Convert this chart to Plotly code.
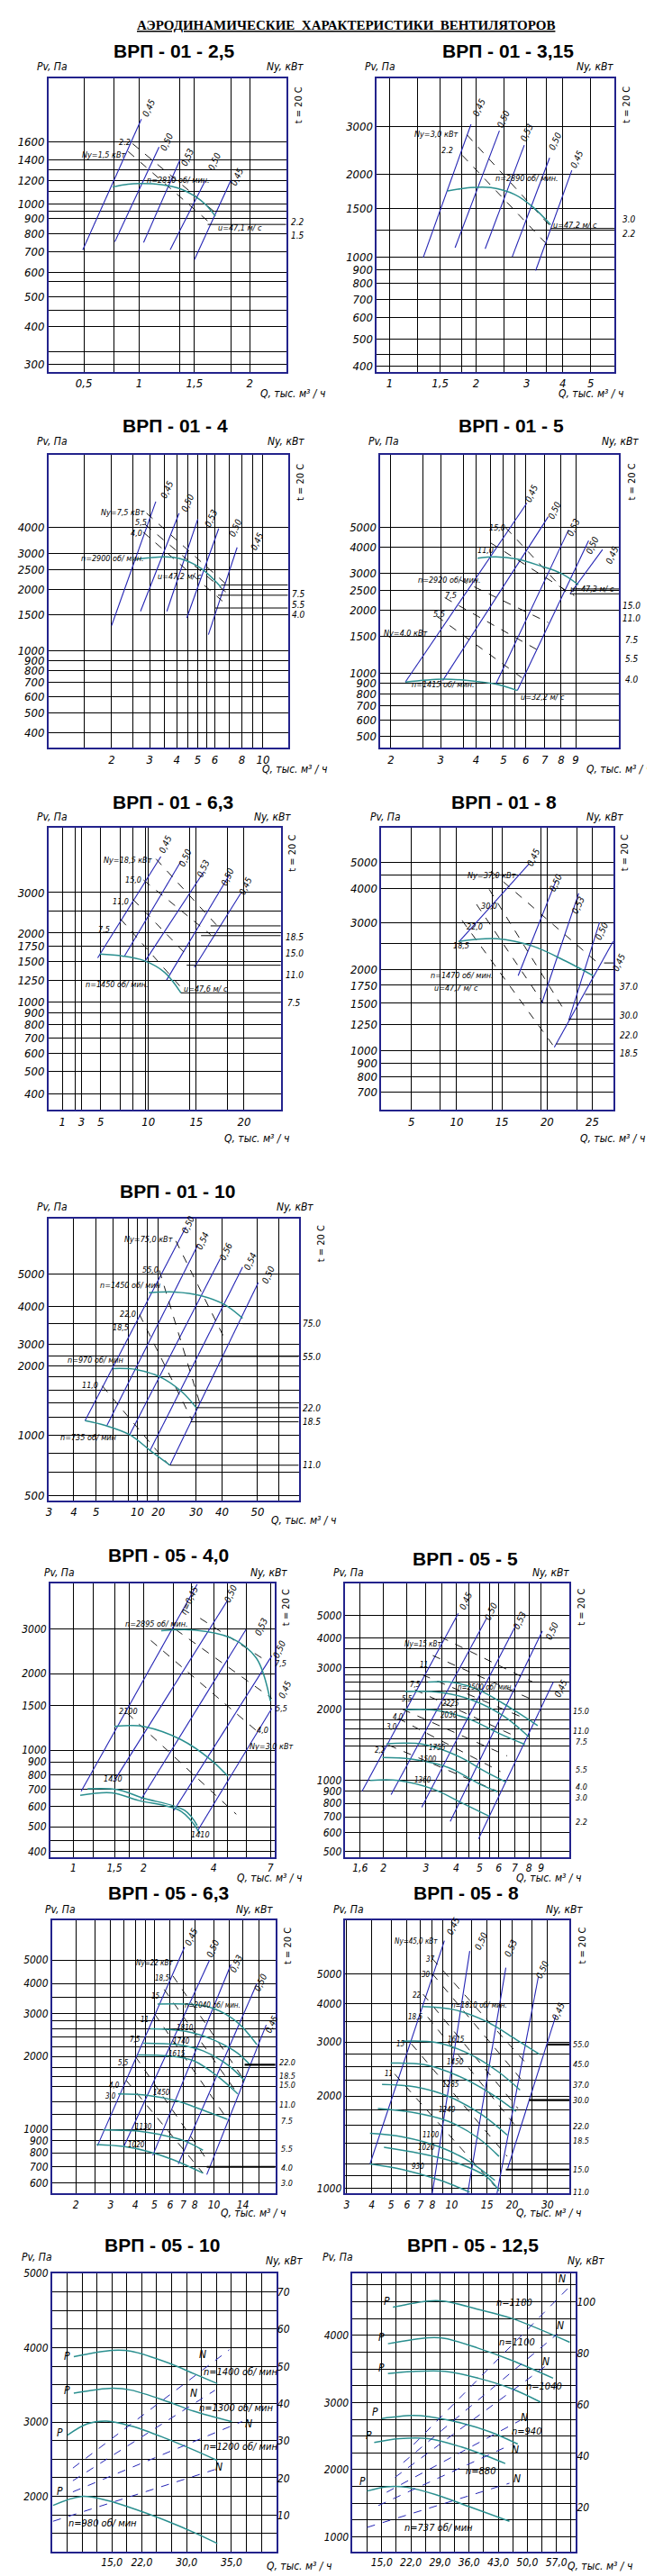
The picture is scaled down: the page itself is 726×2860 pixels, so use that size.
import numpy as np
import plotly.graph_objects as go

W, H = 726, 2860
FONT = "Liberation Sans Narrow, DejaVu Sans Condensed, Liberation Sans, Arial"
NAVY = "#23238c"
BLUE = "#2424b4"
TEAL = "#2a8f8f"

# ---------------- ВРП-01-2,5 ----------------
k25_xt = [0.5, 1, 1.5, 2]
k25_xl = ["0,5", "1", "1,5", "2"]
k25_xg = [0.77, 1.37, 1.83]
k25_yt = [300, 400, 500, 600, 700, 800, 900, 1000, 1200, 1400, 1600]
k25_yg = [330, 450, 560, 950, 1100, 1300]
k25_q = [[0.76, 0.9, 1.02, 1.2, 1.37, 1.5, 1.6, 1.69]]
k25_p = [[1140, 1165, 1170, 1160, 1125, 1065, 1000, 915]]
k25_eff_q = [[0.49, 1.02], [0.78, 1.18], [1.04, 1.37], [1.28, 1.6], [1.5, 1.83]]
k25_eff_p = [[710, 1900], [755, 1540], [750, 1400], [710, 1200], [660, 1200]]
k25_dash_q = [[0.94, 1.69], [0.9, 1.64]]
k25_dash_p = [[1580, 940], [1490, 870]]
k25_n = ["2.2", "1.5"]
k25_stub_q = [1.69, 1.62]
k25_stub_p = [950, 860]

# ---------------- ВРП-01-3,15 ----------------
k315_xt = [1, 1.5, 2, 3, 4, 5]
k315_xg = [1.25, 1.78, 2.5, 3.5]
k315_yt = [400, 500, 600, 700, 800, 900, 1000, 1500, 2000, 3000]
k315_yg = [440, 1250]
k315_q = [[1.59, 1.91, 2.25, 2.72, 3.15, 3.63]]
k315_p = [[1740, 1790, 1790, 1690, 1520, 1310]]
k315_eff_q = [[1.31, 1.92], [1.69, 2.41], [2.15, 2.94], [2.67, 3.6], [3.22, 4.3]]
k315_eff_p = [[995, 3050], [1080, 2890], [1070, 2560], [1000, 2300], [890, 2070]]
k315_dash_q = [[1.86, 3.63], [1.79, 3.47]]
k315_dash_p = [[2790, 1290], [2350, 1130]]
k315_n = ["3.0", "2.2"]
k315_stub_q = [3.63, 3.47]
k315_stub_p = [1270, 1110]

# ---------------- ВРП-01-4 ----------------
k4_xt = [2, 3, 4, 5, 6, 8, 10]
k4_xg = [1.5, 2.5, 3.5, 4.5, 5.5, 7, 9]
k4_yt = [400, 500, 600, 700, 800, 900, 1000, 1500, 2000, 2500, 3000, 4000]
k4_yg = []
k4_q = [[2.58, 3.5, 4.15, 5.2, 6.4]]
k4_p = [[2800, 2880, 2820, 2520, 2050]]
k4_eff_q = [[2.0, 3.2], [2.72, 4.1], [3.6, 5.0], [4.45, 6.25], [5.6, 7.6]]
k4_eff_p = [[1330, 5360], [1560, 4700], [1560, 4400], [1450, 3960], [1200, 3200]]
k4_dash_q = [[2.9, 7.0], [2.85, 6.9], [2.8, 6.5]]
k4_dash_p = [[4700, 2050], [4150, 1900], [3800, 1750]]
k4_n = ["7.5", "5.5", "4.0"]
k4_stub_q = [6.4, 6.2, 6.0]
k4_stub_p = [2100, 1870, 1620]

# ---------------- ВРП-01-5 ----------------
k5_xt = [2, 3, 4, 5, 6, 7, 8, 9]
k5_xg = [2.6, 3.6, 4.5, 5.5]
k5_yt = [500, 600, 700, 800, 900, 1000, 1500, 2000, 2500, 3000, 4000, 5000]
k5_yg = []
k5_q = [[4.05, 4.7, 5.55, 6.8, 8.0, 9.2], [2.25, 3.05, 3.8, 4.7, 5.6]]
k5_p = [[3550, 3600, 3520, 3250, 3000, 2650], [910, 940, 925, 890, 830]]
k5_eff_q = [[2.25, 6.05], [3.05, 7.2], [4.7, 8.5], [5.6, 10.0], [8.6, 11.2]]
k5_eff_p = [[910, 6500], [925, 5600], [890, 4850], [830, 4300], [2400, 3900]]
k5_dash_q = [[5.1, 8.3], [4.5, 8.9], [3.5, 7.2], [3.1, 6.7], [2.9, 6.1]]
k5_dash_p = [[4950, 2450], [4200, 2350], [2800, 1750], [2300, 1280], [1880, 910]]
k5_n = ["15.0", "11.0", "7.5", "5.5", "4.0"]
k5_stub_q = [8.7, 8.6]
k5_stub_p = [2530, 2400]

# ---------------- ВРП-01-6,3 ----------------
k63_xt = [1, 3, 5, 10, 15, 20]
k63_xg = [2.4, 7.1, 8.4, 9.7, 14.3, 18.3]
k63_yt = [400, 500, 600, 700, 800, 900, 1000, 1250, 1500, 1750, 2000, 3000]
k63_yg = [2500]
k63_q = [[4.9, 7.3, 9.5, 11.7, 13.4]]
k63_p = [[1620, 1590, 1520, 1350, 1100]]
k63_eff_q = [[4.7, 11.3], [7.5, 13.4], [9.7, 15.8], [11.9, 18.5], [14.8, 19.7]]
k63_eff_p = [[1560, 4300], [1590, 4100], [1520, 3700], [1250, 3600], [1420, 3000]]
k63_dash_q = [[10.8, 17.2], [9.5, 16.5], [8.4, 14.3], [7.1, 13.5]]
k63_dash_p = [[4200, 2150], [3400, 1970], [2800, 1560], [2300, 1150]]
k63_n = ["18.5", "15.0", "11.0", "7.5"]
k63_stub_q = [16.5, 15.5, 14.0, 13.4]
k63_stub_p = [2150, 1950, 1450, 1100]

# ---------------- ВРП-01-8 ----------------
k8_xt = [5, 10, 15, 20, 25]
k8_xg = [8.2, 13.9, 19.3, 23.3]
k8_yt = [700, 800, 900, 1000, 1250, 1500, 1750, 2000, 3000, 4000, 5000]
k8_yg = [2500, 4500]
k8_q = [[10.2, 14.5, 18.4, 22.1, 25.1]]
k8_p = [[2550, 2610, 2450, 2150, 1900]]
k8_eff_q = [[10.3, 18.0], [16.8, 21.0], [19.4, 23.5], [22.4, 25.8], [20.8, 27.3]]
k8_eff_p = [[2550, 4950], [1900, 4300], [1500, 3850], [1300, 3000], [1030, 2550]]
k8_dash_q = [[13.8, 25.4], [13.6, 22.1], [12.2, 19.6], [10.6, 21.0]]
k8_dash_p = [[4650, 2150], [3980, 1380], [3500, 1500], [3050, 1010]]
k8_n = ["37.0", "30.0", "22.0", "18.5"]
k8_stub_q = [26.3, 24.2, 22.4, 21.0]
k8_stub_p = [2120, 1620, 1310, 1060]

# ---------------- ВРП-01-10 ----------------
k10_xt = [3, 4.2, 5.7, 10, 13.3, 22.3, 31.7, 51.5]
k10_xl = ["3", "4", "5", "10", "20", "30", "40", "50"]
k10_xg = [7.2, 8.8, 11.5, 68.7]
k10_yt = [525, 1000, 2110, 2650, 4000, 5650]
k10_yl = ["500", "1000", "2000", "3000", "4000", "5000"]
k10_yg = [670, 825, 1210, 1420, 1630, 1875, 2350, 3320]
k10_q = [[11.7, 16.6, 24.0, 33.0, 42.0], [7.2, 9.8, 13.5, 18.3, 22.4], [4.9, 6.5, 9.0, 11.9, 15.6]]
k10_p = [[4630, 4670, 4480, 4070, 3520], [2050, 2030, 1880, 1600, 1340], [1170, 1110, 1006, 850, 725]]
k10_eff_q = [[4.9, 19.4], [6.6, 22.8], [9.0, 31], [11.9, 42], [15.6, 52]]
k10_eff_p = [[1170, 9400], [1110, 7740], [1006, 6700], [850, 6100], [725, 5170]]
k10_dash_q = [[16.9, 33], [13.5, 23.9], [10.3, 21.1], [6.2, 15.4]]
k10_dash_p = [[8080, 2810], [5890, 1340], [3660, 1175], [1700, 725]]
k10_n = ["75.0", "55.0", "22.0", "18.5", "11.0"]
k10_stub_q = [42, 31.7, 22.3, 20.7, 15.6]
k10_stub_p = [3320, 2335, 1346, 1156, 725]

# ---------------- ВРП-05-4,0 ----------------
m40_xt = [1, 1.5, 2, 4, 7]
m40_xg = [1.22, 1.74, 2.68, 3.2, 4.6, 5.5]
m40_yt = [400, 500, 600, 700, 800, 900, 1000, 1500, 2000, 3000]
m40_yg = [440]
m40_q = [[2.38, 3.3, 4.8, 6.1, 7.0], [1.5, 1.75, 2.0, 2.9, 3.9, 4.6],
         [1.15, 1.55, 1.97, 3.0, 3.4], [1.07, 1.46, 1.9, 2.9, 3.5]]
m40_p = [[2950, 2970, 2750, 2300, 1560], [1240, 1250, 1240, 1100, 915, 790],
         [705, 700, 650, 580, 505], [665, 680, 635, 575, 470]]
m40_eff_q = [[1.08, 3.4], [1.5, 4.6], [1.95, 5.5], [2.7, 7.1], [3.4, 7.1]]
m40_eff_p = [[690, 4500], [760, 3900], [640, 2980], [580, 2350], [480, 1460]]
m40_dash_q = [[2.15, 6.4], [2.75, 7.1], [3.5, 6.7], [1.7, 5.0]]
m40_dash_p = [[2700, 1150], [2980, 1600], [3300, 2250], [1400, 560]]

# ---------------- ВРП-05-5 ----------------
m5_xt = [1.6, 2, 3, 4, 5, 6, 7, 8, 9]
m5_xg = [2.5, 3.5, 4.5, 5.5]
m5_yt = [500, 600, 700, 800, 900, 1000, 2000, 3000, 4000, 5000]
m5_yg = [3600, 2800, 2600, 2400, 2200, 1800, 1650, 1500, 1400, 1200]
m5_q = [[3.06, 3.89, 4.95, 6.8, 8.7], [2.46, 3.45, 4.76, 6.3, 7.99], [2.46, 3.32, 4.57, 6.03, 7.7],
        [2.06, 2.94, 4.05, 5.36, 6.42], [1.98, 2.61, 3.74, 4.95, 5.92], [1.76, 2.3, 3.2, 4.2, 5.47]]
m5_p = [[2610, 2600, 2420, 2010, 1705], [2380, 2360, 2170, 1870, 1530], [1990, 1980, 1810, 1580, 1420],
        [1430, 1420, 1270, 1080, 985], [1250, 1230, 1130, 970, 895], [1000, 1000, 920, 805, 705]]
m5_eff_q = [[1.63, 4.08], [2.15, 5.35], [2.88, 7.1], [3.78, 9.1], [4.95, 10.1]]
m5_eff_p = [[900, 5100], [870, 4870], [770, 4580], [670, 4300], [565, 2610]]
m5_dash_q = [[3.45, 8.3], [3.2, 8.0], [2.9, 7.7], [2.7, 7.1], [2.4, 6.5], [2.3, 6.1], [2.1, 6.0]]
m5_dash_p = [[4050, 2610], [3380, 2230], [2800, 1830], [2420, 1530], [2000, 1270], [1830, 1090], [1410, 895]]
m5_n = ["15.0", "11.0", "7.5", "5.5", "4.0", "3.0", "2.2"]

# ---------------- ВРП-05-6,3 ----------------
m63_xt = [1.5, 2, 3, 4, 5, 6, 7, 8, 10, 14]
m63_xl = ["1,5", "2", "3", "4", "5", "6", "7", "8", "10", "14"]
m63_xg = [2.5, 3.5, 4.5, 12, 17]
m63_yt = [600, 700, 800, 900, 1000, 2000, 3000, 4000, 5000]
m63_yg = [3500, 2800, 2600, 2400, 2200, 1800, 1650, 1500, 1300, 1150]
m63_q = [[5.18, 9.2, 12.9, 16.5], [4.76, 7.2, 10.1, 13.2, 15.4], [4.39, 6.5, 8.8, 11.7, 14.3],
         [4.12, 5.9, 7.9, 10.6, 13.2], [3.27, 4.65, 6.5, 8.8, 11.7], [2.75, 4.02, 5.4, 7.0, 8.8],
         [2.54, 3.47, 4.65, 6.2, 8.8]]
m63_p = [[3290, 3220, 2800, 2240], [2600, 2540, 2330, 2060, 1830], [2270, 2240, 2110, 1850, 1590],
         [2030, 2010, 1920, 1640, 1400], [1400, 1380, 1310, 1200, 1100], [995, 985, 950, 900, 820],
         [865, 850, 810, 750, 660]]
m63_eff_q = [[2.57, 7.1], [3.5, 9.5], [4.9, 12.2], [6.6, 16.5], [9.2, 18.4]]
m63_eff_p = [[855, 5660], [850, 5000], [780, 4800], [720, 4000], [650, 2700]]
m63_dash_q = [[6.2, 14.3], [5.6, 13.2], [5.0, 11.7], [4.0, 9.2], [3.6, 8.8]]
m63_dash_p = [[4300, 1590], [3780, 1400], [3000, 1100], [2000, 750], [1590, 660]]
m63_n = ["22.0", "18.5", "15.0", "11.0", "7.5", "5.5", "4.0", "3.0"]
m63_stub_q = [14.3, 9.2]
m63_stub_p = [1850, 700]

# ---------------- ВРП-05-8 ----------------
m8_xt = [3, 4, 5, 6, 7, 8, 10, 15, 20, 30]
m8_xg = [9, 12.5, 17.5, 25]
m8_yt = [1000, 2000, 3000, 4000, 5000]
m8_yg = [3500, 2750, 2500, 2250, 1800, 1600, 1400, 1200, 1100]
m8_q = [[7.1, 10.2, 14.9, 20.9, 27.3], [5.7, 8.4, 12.3, 17.2, 21.9], [4.97, 7.3, 10.7, 15.6, 20.9],
        [4.5, 6.6, 9.7, 14.1, 18.9], [4.29, 6.3, 9.7, 13.5, 17.2], [3.92, 5.7, 8.8, 12.3, 16.4],
        [4.6, 6.9, 10.2, 14.9, 17.2], [3.92, 5.7, 8.8, 12.3]]
m8_p = [[3920, 3830, 3500, 3060, 2740], [3020, 2990, 2740, 2390, 2090], [2560, 2530, 2330, 2040, 1780],
        [2180, 2140, 1990, 1740, 1490], [1820, 1770, 1650, 1460, 1270], [1510, 1470, 1360, 1220, 1060],
        [1360, 1300, 1220, 1090, 980], [1200, 1150, 1060, 970]]
m8_eff_q = [[3.92, 9.2], [8.0, 12.3], [12.0, 18.6], [16.8, 27], [19, 33]]
m8_eff_p = [[1200, 6430], [960, 5950], [960, 5250], [960, 4900], [1160, 3660]]
m8_dash_q = [[8.0, 24.2], [8.0, 23.3], [7.2, 21.4], [7.6, 20.9], [6.3, 18.9], [5.2, 16.4]]
m8_dash_p = [[5620, 2500], [5020, 2180], [4300, 1820], [3620, 1590], [2960, 1270], [2360, 1015]]
m8_n = ["55.0", "45.0", "37.0", "30.0", "22.0", "18.5", "15.0", "11.0"]
m8_stub_q = [30, 24.3, 18.6]
m8_stub_p = [2945, 1938, 1150]

# ---------------- ВРП-05-10 ----------------
m10_xl = ["15,0", "22,0", "30,0", "35,0"]
m10_yt = [2000, 3000, 4000, 5000]
m10_nt = [10, 20, 30, 40, 50, 60, 70]
m10_q = [[8.75, 15.2, 18.3, 24.6, 28.7, 32.6], [8.75, 15.2, 18.3, 24.6, 28.7, 35.0],
         [7.7, 11.0, 14.2, 18.3, 23.9, 28.7, 32.6], [5.3, 10.0, 14.2, 19.0, 24.6, 28.7, 32.6]]
m10_p = [[3880, 3965, 3953, 3792, 3651, 3518], [3389, 3457, 3430, 3268, 3147, 3006],
         [2825, 2978, 3014, 2946, 2785, 2624, 2483], [1879, 2000, 1947, 1826, 1657, 1516, 1367]]
m10_nq = [[8.6, 34.6], [8.6, 32.2], [8.6, 36.7], [5.3, 32.2]]
m10_nv = [[22.7, 54.5], [19.3, 43.6], [16.3, 35.2], [8.4, 22.3]]

# ---------------- ВРП-05-12,5 ----------------
m125_xl = ["15,0", "22,0", "29,0", "36,0", "43,0", "50,0", "57,0"]
m125_yt = [1000, 2000, 3000, 4000]
m125_nt = [20, 40, 60, 80, 100]
m125_q = [[17.7, 26.2, 30.2, 38.2, 46.2, 60.2], [16.5, 26.2, 30.2, 38.2, 46.2, 56.2],
          [16.5, 22.2, 30.2, 38.2, 46.2, 53.2], [15, 22.2, 26.2, 34.2, 41.2, 47.7],
          [13.2, 19.2, 26.2, 34.2, 40.2, 44.7], [11.5, 16.2, 21.2, 28.2, 36.2, 45.7]]
m125_p = [[4420, 4513, 4509, 4388, 4255, 3898], [3876, 3965, 3956, 3809, 3630, 3363],
          [3430, 3461, 3465, 3363, 3207, 3006], [2761, 2806, 2792, 2694, 2560, 2382],
          [2404, 2462, 2462, 2337, 2204, 2092], [1682, 1745, 1736, 1624, 1446, 1232]]
m125_nq = [[22.7, 60.7], [20.2, 57.2], [18.2, 54.2], [16.2, 48.2], [14.2, 46.2], [11.5, 45.7]]
m125_nv = [[44.4, 106.7], [37.4, 87.4], [31.6, 74.7], [25.8, 53.7], [20.6, 44.4], [12.1, 29.3]]

eff_std = ["0,45", "0,50", "0,53", "0,50", "0,45"]

fig = go.Figure()
ann = []


def fx(x):
    return x / W


def fy(y):
    return 1 - y / H


def text(s, x, y, size=9, angle=0, xa="center", ya="middle", style="italic", weight="normal", family=FONT, under=False):
    f = dict(family=family, size=size, color="black", style=style, weight=weight)
    if under:
        f["lineposition"] = "under"
    ann.append(dict(text=s, x=fx(x), y=fy(y), xref="paper", yref="paper", showarrow=False,
                    textangle=angle, xanchor=xa, yanchor=ya, font=f))


def axname(kind, n):
    return kind + ("axis" if n == 1 else "axis%d" % n)


def ref(kind, n):
    return kind if n == 1 else "%s%d" % (kind, n)


def panel(n, frame, xtype, xr, xt, xl, xg, ytype, yr, yt, yl, yg, fs=13):
    l, t, r, b = frame
    tf = dict(family=FONT, size=fs, style="italic", color="black")
    common = dict(showgrid=True, gridcolor="black", gridwidth=1, showline=True, mirror=True,
                  linecolor=NAVY, linewidth=1.6, zeroline=False, ticks="", tickmode="array", tickfont=tf)
    fig.layout[axname("x", n)] = dict(domain=[fx(l), fx(r)], anchor=ref("y", n), type=xtype, range=xr,
                                      tickvals=list(xt), ticktext=list(xl),
                                      minor=dict(tickmode="array", tickvals=list(xg), showgrid=True,
                                                 gridcolor="black", gridwidth=1, ticks=""), **common)
    fig.layout[axname("y", n)] = dict(domain=[fy(b), fy(t)], anchor=ref("x", n), type=ytype, range=yr,
                                      tickvals=list(yt), ticktext=list(yl),
                                      minor=dict(tickmode="array", tickvals=list(yg), showgrid=True,
                                                 gridcolor="black", gridwidth=1, ticks=""), **common)


def lines(n, qs, ps, color, width=1.0, dash="solid", shape="linear", yn=None):
    for q, p in zip(qs, ps):
        fig.add_trace(go.Scatter(x=q, y=p, mode="lines", xaxis=ref("x", n), yaxis=ref("y", yn or n),
                                 line=dict(color=color, width=width, dash=dash, shape=shape),
                                 showlegend=False, hoverinfo="skip"))


def stubs(n, qs, ps, qmax, width=1.0):
    lines(n, [[q, qmax] for q in qs], [[p, p] for p in ps], "black", width)


def labels(vals):
    return [("%g" % v).replace(".", ",") for v in vals]


def heads(title, tx, ty, pv, ny, q, t20=None, fs_t=21):
    text(title, tx, ty, size=fs_t, style="normal", weight="bold", family="Liberation Sans, Arial")
    text("Pv, Па", pv[0], pv[1], size=12)
    text("Ny, кВт", ny[0], ny[1], size=12)
    text("Q, тыс. м³ / ч", q[0], q[1], size=12)
    if t20:
        text("t = 20 С", t20[0], t20[1], size=11, angle=-90, style="normal")


def put(items, size=9, angle=0, xa="center"):
    for s, x, y in items:
        text(s, x, y, size=size, angle=angle, xa=xa)


def chart(n, frame, xtype, xr, ytype, yr, xt, xl, xg, yt, yl, yg, q, p, eq, ep, dq, dp, fs=13):
    panel(n, frame, xtype, xr, xt, xl, xg, ytype, yr, yt, yl, yg, fs)
    lines(n, eq, ep, BLUE, 1.1)
    lines(n, dq, dp, "black", 0.9, "dash")
    lines(n, q, p, TEAL, 1.5, shape="spline")


# page title
text("АЭРОДИНАМИЧЕСКИЕ  ХАРАКТЕРИСТИКИ  ВЕНТИЛЯТОРОВ", 375, 13, size=15, style="normal",
     weight="bold", family="Liberation Serif, Times New Roman", under=True)

# ВРП-01-2,5
f = (43, 72, 308, 399)
chart(1, f, "linear", [0.18, 2.33], "log", [2.4526, 3.4129], k25_xt, k25_xl, k25_xg,
      k25_yt, labels(k25_yt), k25_yg, k25_q, k25_p, k25_eff_q, k25_eff_p, k25_dash_q, k25_dash_p)
stubs(1, k25_stub_q, k25_stub_p, 2.33)
heads("ВРП - 01 - 2,5", 183, 42, (47, 59), (307, 59), (315, 423), (322, 102))
put([("Ny=1,5 кВт", 105, 157), ("2.2", 128, 143), ("n=2810 об/ мин.", 188, 186), ("u=47,1 м/ с", 257, 239)])
put(zip(eff_std, [155, 175, 198, 228, 253], [105, 143, 160, 165, 182]), size=10, angle=-65)
put(zip(k25_n, [321, 321], [232, 247]), size=10)

# ВРП-01-3,15
f = (409, 72, 674, 399)
chart(2, f, "log", [-0.044, 0.782], "log", [2.580, 3.653], k315_xt, labels(k315_xt), k315_xg,
      k315_yt, labels(k315_yt), k315_yg, k315_q, k315_p, k315_eff_q, k315_eff_p, k315_dash_q, k315_dash_p)
stubs(2, k315_stub_q, k315_stub_p, 6.05)
heads("ВРП - 01 - 3,15", 555, 42, (413, 59), (652, 59), (648, 423), (688, 102))
put([("Ny=3,0 кВт", 475, 134), ("2.2", 488, 152), ("n=2890 об/ мин.", 576, 184), ("u=47,2 м/ с", 630, 236)])
put(zip(eff_std, [523, 550, 576, 608, 632], [105, 118, 133, 142, 162]), size=10, angle=-65)
put(zip(k315_n, [690, 690], [229, 245]), size=10)

# ВРП-01-4
f = (43, 492, 310, 818)
chart(3, f, "log", [0.0095, 1.1158], "log", [2.5263, 3.955], k4_xt, labels(k4_xt), k4_xg,
      k4_yt, labels(k4_yt), k4_yg, k4_q, k4_p, k4_eff_q, k4_eff_p, k4_dash_q, k4_dash_p)
stubs(3, k4_stub_q, k4_stub_p, 13.05)
heads("ВРП - 01 - 4", 184, 459, (47, 477), (308, 477), (317, 842), (324, 522))
put([("Ny=7,5 кВт", 126, 556), ("5,5", 146, 567), ("4,0", 141, 579), ("n=2900 об/ мин.", 114, 607),
     ("u=47,2 м/ с", 189, 627)])
put(zip(eff_std, [175, 198, 224, 251, 275], [530, 545, 562, 573, 588]), size=10, angle=-65)
put(zip(k4_n, [322] * 3, [647, 659, 670]), size=10)

# ВРП-01-5
f = (413, 492, 679, 818)
chart(4, f, "log", [0.2641, 1.1075], "log", [2.6449, 4.0409], k5_xt, labels(k5_xt), k5_xg,
      k5_yt, labels(k5_yt), k5_yg, k5_q, k5_p, k5_eff_q, k5_eff_p, k5_dash_q, k5_dash_p)
stubs(4, k5_stub_q, k5_stub_p, 12.8)
heads("ВРП - 01 - 5", 559, 459, (417, 477), (680, 477), (679, 842), (693, 522))
put([("15,0", 543, 573), ("11,0", 530, 598), ("n=2920 об/ мин.", 490, 631), ("7,5", 492, 648),
     ("5,5", 478, 669), ("Ny=4,0 кВт", 441, 690), ("u=47,3 м/ с", 649, 641),
     ("n=1415 об/ мин.", 483, 747), ("u=32,2 м/ с", 594, 761)])
put(zip(eff_std, [581, 607, 628, 649, 671], [535, 553, 572, 592, 603]), size=10, angle=-65)
put(zip(k5_n, [693] * 5, [660, 674, 698, 719, 742]), size=10)

# ВРП-01-6,3
f = (43, 907, 302, 1221)
chart(5, f, "linear", [-0.44, 23.84], "log", [2.5331, 3.7583], k63_xt, labels(k63_xt), k63_xg,
      k63_yt, labels(k63_yt), k63_yg, k63_q, k63_p, k63_eff_q, k63_eff_p, k63_dash_q, k63_dash_p)
stubs(5, k63_stub_q, k63_stub_p, 23.84)
heads("ВРП - 01 - 6,3", 182, 878, (47, 895), (293, 895), (275, 1253), (314, 935))
put([("Ny=18,5 кВт", 132, 943), ("15,0", 138, 965), ("11,0", 124, 989), ("7,5", 105, 1020),
     ("n=1450 об/ мин.", 119, 1081), ("u=47,6 м/ с", 218, 1086)])
put(zip(eff_std, [173, 195, 215, 243, 263], [925, 940, 952, 962, 972]), size=10, angle=-65)
put(zip(k63_n, [317] * 4, [1029, 1047, 1071, 1102]), size=10)

# ВРП-01-8
f = (414, 907, 673, 1221)
chart(6, f, "linear", [1.67, 27.36], "log", [2.7805, 3.8284], k8_xt, labels(k8_xt), k8_xg,
      k8_yt, labels(k8_yt), k8_yg, k8_q, k8_p, k8_eff_q, k8_eff_p, k8_dash_q, k8_dash_p)
stubs(6, k8_stub_q, k8_stub_p, 27.36)
heads("ВРП - 01 - 8", 551, 878, (419, 895), (663, 895), (672, 1253), (685, 935))
put([("Ny=37,0 кВт", 537, 960), ("30,0", 534, 994), ("22,0", 518, 1017), ("18,5", 503, 1038),
     ("n=1470 об/ мин.", 504, 1071), ("u=47,7 м/ с", 498, 1085)])
put(zip(eff_std, [583, 609, 634, 660, 679], [940, 968, 993, 1022, 1057]), size=10, angle=-65)
put(zip(k8_n, [690] * 4, [1084, 1116, 1138, 1158]), size=10)

# ВРП-01-10
f = (43, 1342, 322, 1656)
chart(7, f, "log", [0.4736, 1.9559], "log", [2.6961, 4.0126], k10_xt, k10_xl, k10_xg,
      k10_yt, k10_yl, k10_yg, k10_q, k10_p, k10_eff_q, k10_eff_p, k10_dash_q, k10_dash_p)
stubs(7, k10_stub_q, k10_stub_p, 90.3)
heads("ВРП - 01 - 10", 187, 1312, (47, 1329), (318, 1329), (327, 1678), (347, 1370))
put([("Ny=75,0 кВт", 155, 1365), ("55,0", 157, 1399), ("n=1450 об/ мин", 134, 1416), ("22,0", 132, 1449),
     ("18,5", 124, 1464), ("n=970 об/ мин", 95, 1500), ("11,0", 89, 1528), ("n=735 об/ мин", 87, 1586)])
put(zip(["0,50", "0,54", "0,56", "0,54", "0,50"], [199, 215, 241, 268, 288], [1349, 1367, 1379, 1390, 1405]),
    size=10, angle=-65)
put(zip(k10_n, [336] * 5, [1459, 1496, 1553, 1568, 1617]), size=10)

# ВРП-05-4,0
f = (45, 1749, 295, 2053)
chart(8, f, "log", [-0.0991, 0.8631], "log", [2.5809, 3.654], m40_xt, labels(m40_xt), m40_xg,
      m40_yt, labels(m40_yt), m40_yg, m40_q, m40_p, m40_eff_q, m40_eff_p, m40_dash_q, m40_dash_p, fs=12)
heads("ВРП - 05 - 4,0", 177, 1717, (55, 1736), (289, 1736), (289, 2077), (308, 1775))
put([("n=2895 об/ мин.", 164, 1794), ("2100", 132, 1891), ("1430", 115, 1966), ("1410", 212, 2028),
     ("7,5", 302, 1838), ("5,5", 303, 1888), ("4,0", 282, 1912), ("Ny=3,0 кВт", 292, 1930)])
put(zip(["η=0,45", "0,50", "0,53", "0,50", "0,45"], [200, 246, 280, 300, 306], [1767, 1760, 1797, 1822, 1867]),
    size=10, angle=-65)

# ВРП-05-5
f = (374, 1749, 624, 2053)
chart(9, f, "log", [0.1433, 1.0722], "log", [2.6761, 3.8324], m5_xt, labels(m5_xt), m5_xg,
      m5_yt, labels(m5_yt), m5_yg, m5_q, m5_p, m5_eff_q, m5_eff_p, m5_dash_q, m5_dash_p, fs=12)
heads("ВРП - 05 - 5", 508, 1721, (378, 1736), (603, 1736), (600, 2077), (637, 1775))
put([("Ny=15 кВт", 460, 1816), ("11", 461, 1839), ("7,5", 452, 1861), ("5,5", 443, 1877), ("4,0", 433, 1897),
     ("3,0", 426, 1909), ("2,2", 413, 1935), ("n=2500 об/ мин.", 530, 1864), ("2225", 492, 1882),
     ("2030", 490, 1895), ("1755", 476, 1932), ("1500", 466, 1945), ("1360", 460, 1968)], size=8)
put(zip(eff_std, [508, 536, 568, 604, 614], [1768, 1780, 1790, 1802, 1865]), size=10, angle=-65)
put(zip(m5_n, [637] * 7, [1891, 1913, 1925, 1956, 1975, 1987, 2014]), size=9)

# ВРП-05-6,3
f = (47, 2124, 296, 2428)
chart(10, f, "log", [0.1802, 1.3116], "log", [2.7349, 3.8622], m63_xt, m63_xl, m63_xg,
      m63_yt, labels(m63_yt), m63_yg, m63_q, m63_p, m63_eff_q, m63_eff_p, m63_dash_q, m63_dash_p, fs=12)
stubs(10, m63_stub_q, m63_stub_p, 20.5, width=2.2)
heads("ВРП - 05 - 6,3", 177, 2093, (56, 2112), (273, 2112), (271, 2450), (310, 2152))
put([("Ny=22 кВт", 161, 2171), ("18,5", 170, 2188), ("15", 163, 2208), ("11", 150, 2235), ("7,5", 140, 2257),
     ("5,5", 127, 2283), ("4,0", 116, 2308), ("3,0", 112, 2320), ("n=2040 об/ мин.", 226, 2218),
     ("1810", 195, 2244), ("1740", 191, 2259), ("1615", 186, 2273), ("1450", 169, 2316),
     ("1130", 149, 2354), ("1020", 141, 2374)], size=8)
put(zip(eff_std, [202, 226, 252, 279, 292], [2142, 2155, 2172, 2193, 2240]), size=10, angle=-65)
put(zip(m63_n, [309] * 8, [2282, 2297, 2307, 2329, 2347, 2378, 2400, 2417]), size=9)

# ВРП-05-8
f = (374, 2124, 624, 2428)
chart(11, f, "log", [0.4709, 1.5875], "log", [2.9824, 3.8739], m8_xt, labels(m8_xt), m8_xg,
      m8_yt, labels(m8_yt), m8_yg, m8_q, m8_p, m8_eff_q, m8_eff_p, m8_dash_q, m8_dash_p, fs=12)
stubs(11, m8_stub_q, m8_stub_p, 38.6, width=2.2)
heads("ВРП - 05 - 8", 509, 2093, (378, 2112), (618, 2112), (600, 2450), (638, 2152))
put([("Ny=45,0 кВт", 453, 2147), ("37", 469, 2167), ("30", 464, 2184), ("22", 454, 2207), ("18,5", 452, 2232),
     ("15", 436, 2262), ("11", 422, 2295), ("n=1810 об/ мин.", 523, 2218), ("1615", 498, 2257),
     ("1450", 497, 2282), ("1285", 492, 2307), ("1240", 488, 2335), ("1100", 469, 2363),
     ("1020", 464, 2377), ("930", 455, 2398)], size=8)
put(zip(eff_std, [494, 525, 558, 593, 612], [2130, 2147, 2155, 2179, 2225]), size=10, angle=-65)
put(zip(m8_n, [637] * 8, [2262, 2284, 2307, 2324, 2353, 2369, 2402, 2427]), size=9)

# ВРП-05-10
f = (47, 2517, 297, 2827)
step = (42.4 - 5.14) / 15
grid12 = [5.14 + step * k for k in range(1, 15)]
lab_idx = [4, 6, 9, 12]
xt = [grid12[k - 1] for k in lab_idx]
xg = [v for i, v in enumerate(grid12, 1) if i not in lab_idx]
yg = [v for v in range(1250, 5001, 250) if v not in m10_yt]
panel(12, f, "linear", [5.14, 42.4], xt, m10_xl, xg, "linear", [1255, 5000],
      m10_yt, [str(v) for v in m10_yt], yg, fs=12)
fig.layout["yaxis14"] = dict(overlaying="y12", side="right", anchor="x12", range=[0.2, 75], showgrid=False,
                             zeroline=False, tickmode="array", tickvals=m10_nt, ticks="",
                             tickfont=dict(family=FONT, size=12, style="italic", color="black"))
lines(12, m10_nq, m10_nv, BLUE, 1.0, "dash", yn=14)
lines(12, m10_q, m10_p, TEAL, 1.5, shape="spline")
heads("ВРП - 05 - 10", 170, 2485, (30, 2499), (306, 2503), (322, 2843))
put([("P", 64, 2609), ("P", 64, 2647), ("P", 56, 2694), ("P", 56, 2760),
     ("N", 215, 2607), ("N", 205, 2650), ("N", 266, 2684), ("N", 233, 2733)], size=12)
put([("n=1400 об/ мин", 257, 2627), ("n=1300 об/ мин", 252, 2667), ("n=1200 об/ мин", 257, 2710),
     ("n=980 об/ мин", 103, 2795)], size=11)

# ВРП-05-12,5
f = (382, 2517, 631, 2827)
grid13 = [8.0 + 3.5 * k for k in range(1, 16)]
xt = grid13[1::2]
xg = grid13[0::2]
yg = [v for v in range(1000, 4924, 250) if v not in m125_yt]
panel(13, f, "linear", [8.0, 61.7], xt, m125_xl, xg, "linear", [777, 4923],
      m125_yt, [str(v) for v in m125_yt], yg, fs=12)
fig.layout["yaxis15"] = dict(overlaying="y13", side="right", anchor="x13", range=[2.6, 111], showgrid=False,
                             zeroline=False, tickmode="array", tickvals=m125_nt, ticks="",
                             tickfont=dict(family=FONT, size=12, style="italic", color="black"))
lines(13, m125_nq, m125_nv, BLUE, 1.0, "dash", yn=15)
lines(13, m125_q, m125_p, TEAL, 1.5, shape="spline")
heads("ВРП - 05 - 12,5", 516, 2485, (366, 2499), (642, 2503), (658, 2843))
put([("P", 420, 2548), ("P", 414, 2588), ("P", 414, 2622), ("P", 407, 2671), ("P", 400, 2697), ("P", 393, 2749),
     ("N", 616, 2523), ("N", 614, 2575), ("N", 597, 2615), ("N", 573, 2677), ("N", 563, 2714), ("N", 565, 2746)],
    size=12)
put([("n=1180", 562, 2550), ("n=1100", 565, 2594), ("n=1040", 595, 2643), ("n=940", 576, 2693),
     ("n=880", 525, 2737), ("n=737 об/ мин", 478, 2800)], size=11)

fig.update_layout(width=W, height=H, margin=dict(l=0, r=0, t=0, b=0), paper_bgcolor="white",
                  plot_bgcolor="white", showlegend=False, annotations=ann)
fig.write_html("out.html")
